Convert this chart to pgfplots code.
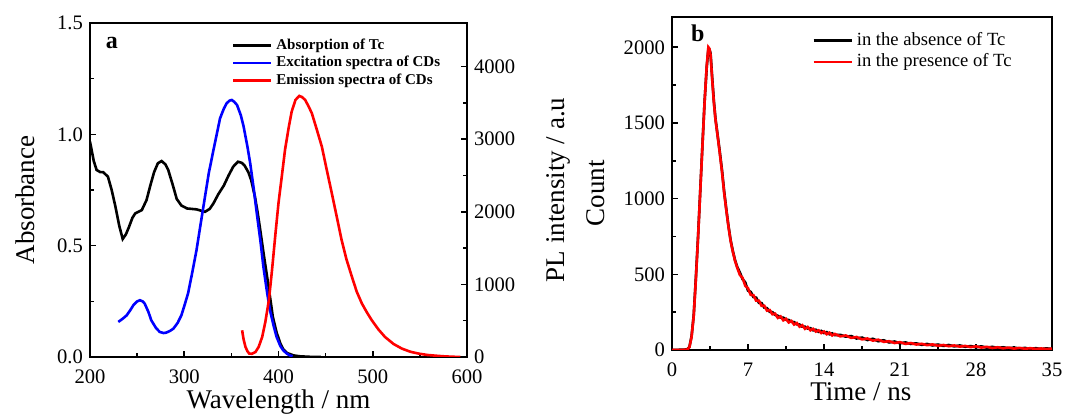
\documentclass[border=0pt]{standalone}
\usepackage{fontspec}
\setmainfont{Liberation Serif}
\usepackage{pgfplots}
\pgfplotsset{compat=1.18}

\pgfplotsset{
  panel/.style={
    scale only axis,
    axis line style={line width=0.9pt},
    tick style={line width=0.8pt, black},
    major tick length=3pt, minor tick length=2pt,
    tick label style={font=\fontsize{10.3}{12}\selectfont},
    xticklabel style={yshift=-3pt},
    label style={font=\fontsize{13.5}{15}\selectfont},
    /pgf/number format/assume math mode=true,
    /pgf/number format/set thousands separator={},
    every axis plot/.append style={line width=1.3pt},
  }
}

\begin{document}
\begin{tikzpicture}
\path[use as bounding box] (0,0) rectangle (537.5pt,208pt);

% ---- panel a, left axis: absorbance
\begin{axis}[panel,
  at={(45pt,29.5pt)}, anchor=south west,
  width=188.5pt, height=167pt,
  xmin=200, xmax=600, ymin=0, ymax=1.5,
  xtick={200,300,...,600}, minor x tick num=1,
  ytick={0,0.5,1,1.5}, minor y tick num=1,
  xtick pos=bottom, ytick pos=left,
  yticklabel style={/pgf/number format/.cd, fixed, fixed zerofill, precision=1},
  xlabel={Wavelength / nm}, ylabel={Absorbance},
  xlabel style={at={(axis description cs:0.5,-0.135)}, anchor=center},
  ylabel style={at={(axis description cs:-0.172,0.47)}, anchor=center},
]
\addplot[black] coordinates {
(200,0.967) (204,0.88) (207,0.84) (211,0.83) (214,0.83) (219,0.81) (223,0.75)
(227,0.675) (231,0.59) (234.7,0.53) (238,0.55) (241,0.58) (245,0.625) (248,0.645)
(255,0.66) (260,0.705) (264,0.77) (268,0.83) (272,0.87) (276,0.88) (280,0.865)
(283,0.84) (288,0.77) (292,0.71) (297,0.68) (303,0.667) (313,0.663) (322,0.652)
(327,0.665) (331,0.69) (336,0.73) (342,0.77) (347,0.815) (352,0.855) (357,0.877)
(361,0.872) (364,0.86) (368,0.83) (371,0.795) (375,0.72) (378,0.645) (381,0.56)
(384,0.47) (389,0.33) (394,0.18) (398,0.11) (402,0.06) (405,0.035) (409,0.018)
(416,0.007) (423,0.003) (437,0) (445,0)
};
\node[font=\bfseries\fontsize{12}{14}\selectfont] at (rel axis cs:0.058,0.94) {a};
\end{axis}

% ---- panel a, right axis: PL intensity
\begin{axis}[panel,
  at={(45pt,29.5pt)}, anchor=south west,
  width=188.5pt, height=167pt,
  xmin=200, xmax=600, ymin=0, ymax=4600,
  axis x line=none, axis y line*=right,
  ytick={0,1000,...,4000}, minor y tick num=1,
  scaled y ticks=false,
  ylabel={PL intensity / a.u},
  ylabel style={at={(axis description cs:1.242,0.5)}, anchor=center},
  legend style={at={(rel axis cs:0.375,0.966)}, anchor=north west,
    draw=none, fill=none, inner sep=0pt, row sep=-2pt,
    font=\bfseries\fontsize{7.5}{9}\selectfont},
  legend image code/.code={\draw[#1] (0pt,0pt) -- (19pt,0pt);},
  legend cell align=left,
]
\addlegendimage{black, line width=1.3pt}
\addlegendentry{Absorption of Tc}
\addplot[blue] coordinates {
(230,483) (235,530) (239,575) (243,650) (246,713) (250,765) (253,782) (256,765)
(258,736) (262,620) (265,506) (270,400) (274,345) (278,330) (281,336) (285,360)
(288.5,391) (293,470) (297,575) (300,700) (304,874) (308,1130) (313,1471)
(317,1800) (322,2207) (326,2530) (331,2851) (335,3100) (338,3288) (342,3420)
(345,3494) (348,3530) (350.4,3540) (353,3515) (356,3471) (360,3330) (363,3173)
(367,2900) (370,2667) (374,2290) (377,1977) (381,1580) (384,1241) (388,880)
(391,644) (395,420) (398,276) (402,150) (405,92) (409,45) (412,23) (415,10)
};
\addlegendentry{Excitation spectra of CDs}
\addplot[red] coordinates {
(361.4,368) (363,240) (365,138) (367,80) (369,46) (372,45) (375.6,69) (379,140)
(382.7,276) (386,480) (389.8,782) (393,1180) (396.8,1701) (400,2120) (403.9,2529)
(407,2860) (411,3173) (414,3380) (418,3540) (422,3596) (425,3580) (428.3,3540)
(432,3450) (435.4,3356) (440,3160) (446,2897) (451,2590) (456.6,2253) (462,1920)
(467,1609) (472,1350) (477.9,1104) (483,900) (488.5,736) (494,610) (499,506)
(506,380) (513,276) (522,180) (531,115) (540,72) (549,46) (558,28) (566.7,18)
(577,8) (588,2) (593,0)
};
\addlegendentry{Emission spectra of CDs}
\end{axis}

% ---- panel b: decay
\begin{axis}[panel,
  at={(336pt,33pt)}, anchor=south west,
  width=190pt, height=166.5pt,
  xmin=0, xmax=35, ymin=0, ymax=2200,
  xtick={0,7,...,35}, minor x tick num=1,
  ytick={0,500,...,2000}, minor y tick num=1,
  xtick pos=bottom, ytick pos=left,
  scaled y ticks=false,
  xlabel={Time / ns}, ylabel={Count},
  xlabel style={at={(axis description cs:0.497,-0.125)}, anchor=center},
  ylabel style={at={(axis description cs:-0.2,0.47)}, anchor=center},
  legend style={at={(rel axis cs:0.368,0.966)}, anchor=north west,
    draw=none, fill=none, inner sep=0pt, row sep=-1.5pt,
    font=\fontsize{9.3}{11}\selectfont},
  legend image code/.code={\draw[#1] (0pt,0pt) -- (19pt,0pt);},
  legend cell align=left,
]
\addplot[black] coordinates {
(0,0) (0.5,1) (1.0,2) (1.4,4) (1.6,20) (1.8,90) (2.0,230) (2.2,480) (2.4,750)
(2.6,1050) (2.8,1350) (3.0,1640) (3.2,1870) (3.35,1990) (3.45,1985) (3.55,1960)
(3.7,1800) (3.85,1650) (4.0,1530) (4.2,1420) (4.4,1310) (4.6,1190) (4.8,1050)
(5.0,930) (5.2,820) (5.4,725) (5.6,655) (5.8,595) (6.0,550) (6.25,512) (6.5,468)
(6.75,446) (7.0,392) (7.25,384) (7.5,350) (7.75,346) (8.0,312) (8.25,310)
(8.5,280) (8.75,276) (9.0,252) (9.25,250) (9.5,232) (9.75,226) (10.0,214)
(10.25,214) (10.5,200) (10.75,198) (11.0,186) (11.25,184) (11.5,170) (11.75,168)
(12.0,154) (12.25,154) (12.5,142) (12.75,144) (13.0,130) (13.25,134) (13.5,120)
(13.75,126) (14.0,112) (14.25,118) (14.5,104) (14.75,110) (15.0,98) (15.5,100)
(16,88) (16.5,92) (17,76) (17.5,82) (18,66) (18.5,74) (19,58) (19.5,64) (20,50)
(20.5,56) (21,44) (21.5,50) (22,40) (22.5,44) (23,34) (23.5,40) (24,30) (24.5,36)
(25,27) (25.5,33) (26,24) (26.5,30) (27,21) (27.5,26) (28,18) (28.5,24) (29,15)
(29.5,21) (30,13) (30.5,18) (31,11) (31.5,16) (32,9) (32.5,14) (33,7) (33.5,12)
(34,6) (34.5,11) (35,6)
};
\addlegendentry{in the absence of Tc}
\addplot[red] coordinates {
(0,0) (0.5,0) (1.0,1) (1.4,3) (1.6,18) (1.8,85) (2.0,225) (2.2,470) (2.4,745)
(2.6,1045) (2.8,1345) (3.0,1635) (3.2,1880) (3.35,2000) (3.45,1990) (3.55,1950)
(3.7,1790) (3.85,1640) (4.0,1525) (4.2,1415) (4.4,1300) (4.6,1180) (4.8,1040)
(5.0,925) (5.2,815) (5.4,720) (5.6,650) (5.8,590) (6.0,545) (6.25,496) (6.5,476)
(6.75,424) (7.0,408) (7.25,364) (7.5,362) (7.75,326) (8.0,326) (8.25,292)
(8.5,292) (8.75,260) (9.0,264) (9.25,236) (9.5,240) (9.75,212) (10.0,222)
(10.25,196) (10.5,206) (10.75,182) (11.0,192) (11.25,168) (11.5,178) (11.75,154)
(12.0,164) (12.25,140) (12.5,152) (12.75,130) (13.0,140) (13.25,122) (13.5,130)
(13.75,112) (14.0,122) (14.25,104) (14.5,114) (14.75,96) (15.0,106) (15.5,90)
(16,96) (16.5,80) (17,86) (17.5,70) (18,76) (18.5,62) (19,68) (19.5,54) (20,58)
(20.5,46) (21,52) (21.5,40) (22,46) (22.5,36) (23,41) (23.5,32) (24,37) (24.5,28)
(25,33) (25.5,25) (26,30) (26.5,22) (27,27) (27.5,19) (28,24) (28.5,16) (29,21)
(29.5,13) (30,18) (30.5,11) (31,16) (31.5,9) (32,14) (32.5,8) (33,12) (33.5,7)
(34,10) (34.5,6) (35,9)
};
\addlegendentry{in the presence of Tc}
\node[font=\bfseries\fontsize{12}{14}\selectfont] at (rel axis cs:0.068,0.952) {b};
\end{axis}
\end{tikzpicture}
\end{document}
